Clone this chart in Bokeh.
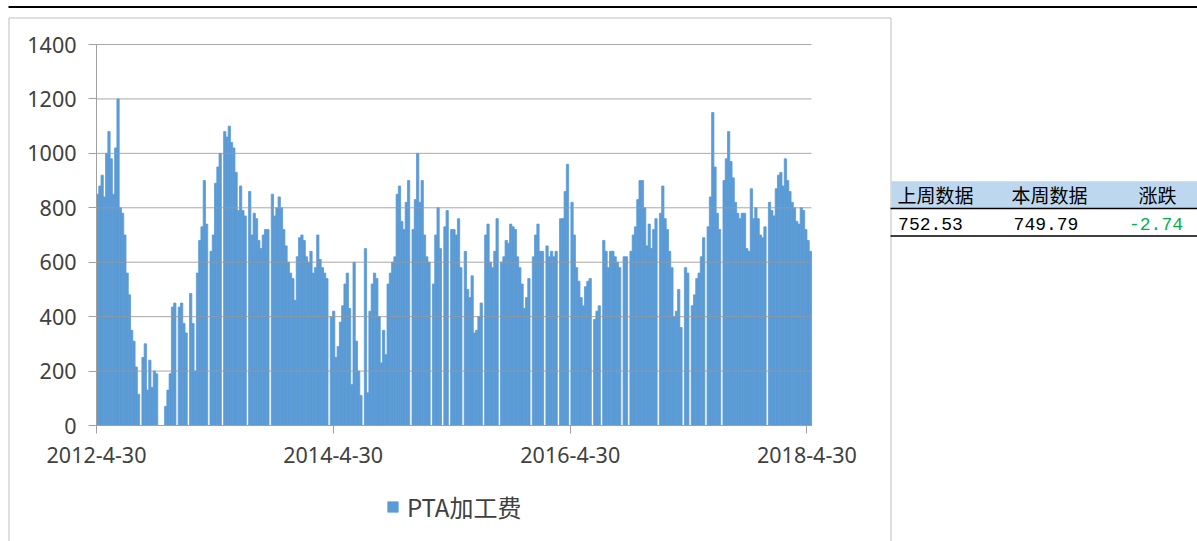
import numpy as np
import pandas as pd
from bokeh.plotting import figure
from bokeh.models import (Range1d, FixedTicker, Legend, LegendItem, ColumnDataSource)
from bokeh.embed import file_html
from bokeh.resources import INLINE
from bokeh.core.properties import value

# ---------------- data ----------------
series_name = "PTA加工费"
first_week = "2012-04-30"          # weekly values, one per week from this Monday
pta_fee = [
    850, 880, 920, 840, 1000, 1080, 980, 850, 1020, 1200,          # 0-9
    800, 780, 700, 560, 480, 350, 310, 215, 115, None,             # 10-19
    250, 300, 130, 240, 140, 200, 190, 0, 0, 0,                    # 20-29
    70, 130, 190, 435, 450, None, 435, 450, 375, 340,              # 30-39
    None, 485, 375, 200, 560, 680, 730, 900, 740, None,            # 40-49
    640, 700, 890, 950, 1000, None, 1080, 1060, 1100, 1040,        # 50-59
    1020, 930, 790, 880, 790, 770, None, 860, 700, 780,            # 60-69
    760, 680, 650, 700, 720, 720, None, 850, 770, 800,             # 70-79
    840, 800, 720, 660, 600, 560, 540, 460, 620, 690,              # 80-89
    700, 680, 620, 600, 640, 560, 580, 700, 610, 580,              # 90-99
    560, 540, None, 400, 420, 250, 290, 380, 440, 520,             # 100-109
    560, 430, 150, 600, 310, 200, 110, None, 650, 120,             # 110-119
    420, 520, 560, 540, 400, 230, 350, 260, 520, 560,              # 120-129
    600, 620, 850, 880, 750, 720, 820, 900, None, 720,             # 130-139
    830, 1000, 820, 900, 700, 620, 600, None, 520, 700,            # 140-149
    800, 650, None, 730, 790, None, 720, 720, 700, 760,            # 150-159
    580, None, 640, 500, 470, 550, 340, 350, 400, 450,             # 160-169
    None, 700, 740, 600, 580, 640, 760, None, 600, 620,            # 170-179
    680, 670, 740, 730, 720, 620, 580, 520, 430, 470,              # 180-189
    540, None, 620, 700, 740, 640, 640, None, 660, 620,            # 190-199
    640, 620, 640, None, 760, 760, 860, 960, None, 820,            # 200-209
    700, 580, 530, 470, 440, 510, 530, 540, None, 390,             # 210-219
    420, 440, None, 680, 640, 580, 640, 640, 620, 600,             # 220-229
    580, None, 620, 620, None, 640, 700, 730, 830, 900,            # 230-239
    900, 800, 660, 740, 650, 720, 760, None, 780, 880,             # 240-249
    760, 720, 640, 580, 400, 420, 500, 360, None, 580,             # 250-259
    560, None, 440, 480, 540, 560, 620, 690, None, 730,            # 260-269
    840, 1150, 950, 780, 720, None, 900, 980, 1080, 970,           # 270-279
    910, 820, 780, 760, 780, 780, 650, 640, 870, 760,              # 280-289
    800, 760, 700, 690, 730, None, 820, 790, 770, 870,             # 290-299
    920, 930, 880, 980, 900, 860, 820, 800, 750, 740,              # 300-309
    800, 790, 720, 680, 640,                                       # 310-314
]
x_tick_dates = ["2012-4-30", "2014-4-30", "2016-4-30", "2018-4-30"]
y_ticks = [0, 200, 400, 600, 800, 1000, 1200, 1400]
table_headers = ["上周数据", "本周数据", "涨跌"]
table_values = ["752.53", "749.79", "-2.74"]

# ---------------- styles / layout (page pixels) ----------------
BLUE = "#5B9BD5"
AXIS = "#A0A0A0"
TXT = "#404040"
W, H = 1197, 541
PX_L, PX_R = 96, 811        # plot area left / right
PY_T, PY_B = 44, 425        # plot area top / bottom
Y_MAX = 1400

weeks = pd.date_range(first_week, periods=len(pta_fee), freq="7D")
centers = weeks + pd.Timedelta(days=3.5)
tops = [np.nan if v is None else float(v) for v in pta_fee]
src = ColumnDataSource(dict(x=centers, top=tops))
DAY_MS = 24 * 3600 * 1000
WEEK_MS = 7 * DAY_MS

x_start = pd.Timestamp(first_week).value // 10**6
x_end = x_start + len(pta_fee) * WEEK_MS
ms_per_px = (x_end - x_start) / (PX_R - PX_L)
u_per_px = Y_MAX / (PY_B - PY_T)


def X(px):
    return x_start + (px - PX_L) * ms_per_px


def Y(py):
    return (PY_B - py) * u_per_px


p = figure(width=W, height=H, x_axis_type="datetime",
           output_backend="svg", toolbar_location=None,
           x_range=Range1d(X(0), X(W)), y_range=Range1d(Y(H), Y(0)),
           min_border=0)
p.outline_line_color = None
p.background_fill_color = "white"
p.border_fill_color = "white"
p.grid.visible = False

r = p.vbar(x="x", top="top", width=WEEK_MS, source=src,
           fill_color=BLUE, line_color=BLUE, line_width=0.8)

# horizontal gridlines, drawn over the bars like the reference
gy = y_ticks[1:]
p.segment(x0=[x_start] * len(gy), x1=[x_end] * len(gy), y0=gy, y1=gy,
          line_color="#999999", line_alpha=0.85, line_width=1)

tick_ms = [pd.Timestamp(d).value // 10**6 for d in x_tick_dates]
p.xaxis.ticker = FixedTicker(ticks=tick_ms)
p.xaxis.major_label_overrides = {t: lab for t, lab in zip(tick_ms, x_tick_dates)}
p.xaxis.fixed_location = 0
p.xaxis.bounds = (x_start, x_end)
p.yaxis.ticker = FixedTicker(ticks=y_ticks)
p.yaxis.fixed_location = x_start
p.yaxis.bounds = (0, Y_MAX)

for ax in (p.xaxis, p.yaxis):
    ax.axis_line_color = AXIS
    ax.major_tick_line_color = AXIS
    ax.major_tick_out = 8
    ax.major_tick_in = 0
    ax.minor_tick_line_color = None
    ax.major_label_text_font = "Noto Sans"
    ax.major_label_text_font_size = "21.5px"
    ax.major_label_text_color = TXT
p.yaxis.major_label_standoff = 12
p.xaxis.major_label_standoff = 13

legend = Legend(items=[LegendItem(label=series_name, renderers=[r])],
                location=(386, 17), orientation="horizontal",
                label_text_font="Noto Sans CJK SC", label_text_font_size="24px",
                label_text_color=TXT, glyph_width=13, glyph_height=13,
                label_standoff=8, border_line_color=None,
                background_fill_alpha=0, margin=0, padding=5)
p.add_layout(legend, "center")

# ---------------- frame decorations ----------------
# thick black rule across the top
p.quad(left=[X(8)], right=[X(W)], top=[Y(5.5)], bottom=[Y(7.5)],
       fill_color="#000000", line_color=None)
# chart box border
p.quad(left=[X(8.5)], right=[X(890.5)], top=[Y(17.5)], bottom=[Y(H + 5)],
       fill_alpha=0, line_color="#BFBFBF", line_width=1)

# ---------------- side table ----------------
p.quad(left=[X(891)], right=[X(W)], top=[Y(180.7)], bottom=[Y(207.5)],
       fill_color="#BDD7EE", line_color=None)
p.segment(x0=[X(890)] * 2, x1=[X(W)] * 2, y0=[Y(208), Y(235.5)], y1=[Y(208), Y(235.5)],
          line_color="#000000", line_width=1.5)
head_x = [935, 1049, 1157]
val_x = [930, 1045.5, 1155.5]
p.text(x=[X(v) for v in head_x], y=[Y(194)] * 3, text=table_headers,
       text_align="center", text_baseline="middle",
       text_font=value("Noto Sans CJK SC"), text_font_size="19px",
       text_color="#000000")
p.text(x=[X(v) for v in val_x], y=[Y(223)] * 3, text=table_values,
       text_align="center", text_baseline="middle",
       text_font=value("Liberation Mono"), text_font_size="18px",
       text_color=["#000000", "#000000", "#00B050"])

open("out.html", "w").write(file_html(p, INLINE))
